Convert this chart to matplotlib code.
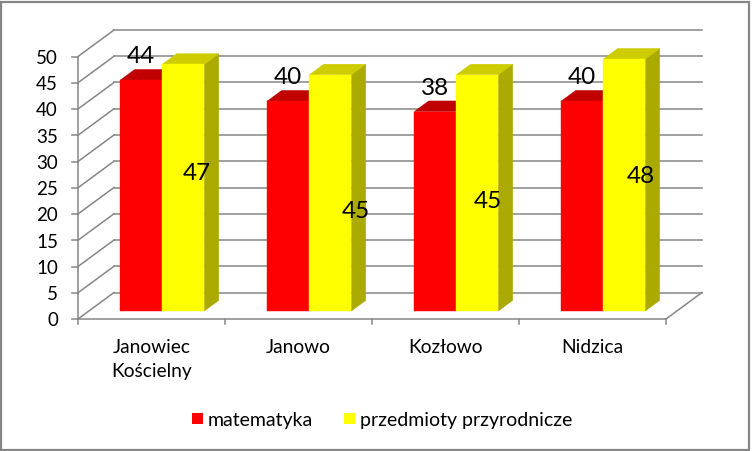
import matplotlib
matplotlib.use("Agg")
import matplotlib.pyplot as plt
from matplotlib.patches import Polygon, Rectangle

# ---- data ----
categories = ["Janowiec\nKościelny", "Janowo", "Kozłowo", "Nidzica"]
series_names = ["matematyka", "przedmioty przyrodnicze"]
matematyka = [44, 40, 38, 40]
przyrodnicze = [47, 45, 45, 48]
y_ticks = [0, 5, 10, 15, 20, 25, 30, 35, 40, 45, 50]

# ---- style / layout ----
W, H = 752, 452
PX_X0, PX_CAT, PX_Y0, PX_UNIT = 78, 147, 320, 5.25
DX, DV = 36 / PX_CAT, 26.5 / PX_UNIT          # depth direction (full wall depth)
Z0, Z1 = 0.3, 0.7                            # bar depth range
GAP = 1.5                                    # gap width (fraction of bar width)
BW = 1 / (2 + GAP)
FONT = "Lato"
GRID = "#868686"
colors = {
    "front": ["#FF0000", "#FFFF00"],
    "top": ["#C00000", "#CCCC00"],
    "side": ["#A00000", "#AAAA00"],
}
# label nudges (px) for the yellow labels, as placed in the original
ylab_dx_px = [13, 26, 11, 16]
ylab_dv = [1.7, -4.6, -2.7, 0.6]

fig = plt.figure(figsize=(W / 100, H / 100), dpi=100)
ax = fig.add_axes([0, 0, 1, 1])
ax.set_xlim(-PX_X0 / PX_CAT, (W - PX_X0) / PX_CAT)
ax.set_ylim((PX_Y0 - H) / PX_UNIT, PX_Y0 / PX_UNIT)
ax.axis("off")


def proj(x, v, z):
    return (x + z * DX, v + z * DV)


def px_x(n):
    return n / PX_CAT


def px_v(n):
    return n / PX_UNIT


ncat = len(categories)
vmax = y_ticks[-1]
lw = 1.1

# back wall gridlines and left wall diagonals
for t in y_ticks:
    a = proj(0, t, 1)
    b = proj(ncat, t, 1)
    ax.plot([a[0], b[0]], [a[1], b[1]], color=GRID, lw=lw, zorder=1)
    c = proj(0, t, 0)
    ax.plot([c[0], a[0]], [c[1], a[1]], color=GRID, lw=lw, zorder=1)
    # y tick mark
    ax.plot([-px_x(6), 0], [t, t], color=GRID, lw=lw, zorder=1)
    ax.text(-px_x(20), t - px_v(6.5), str(t), ha="right", va="baseline",
            fontsize=13.5, family=FONT, color="black")

# front vertical axis
ax.plot([0, 0], [0, vmax], color=GRID, lw=lw, zorder=1)
# floor front edge and right edge
ax.plot([0, ncat], [0, 0], color=GRID, lw=lw, zorder=1)
r0 = proj(ncat, 0, 0)
r1 = proj(ncat, 0, 1)
ax.plot([r0[0], r1[0]], [r0[1], r1[1]], color=GRID, lw=lw, zorder=1)
# category ticks
for i in range(ncat + 1):
    ax.plot([i, i], [0, -px_v(5)], color=GRID, lw=lw, zorder=1)

# bars
series = [matematyka, przyrodnicze]
for i in range(ncat):
    for s, vals in enumerate(series):
        v = vals[i]
        x0 = i + (1 - 2 * BW) / 2 + s * BW
        x1 = x0 + BW
        zo = 3 + i * 2 + s
        front = [proj(x0, 0, Z0), proj(x1, 0, Z0), proj(x1, v, Z0), proj(x0, v, Z0)]
        top = [proj(x0, v, Z0), proj(x1, v, Z0), proj(x1, v, Z1), proj(x0, v, Z1)]
        side = [proj(x1, 0, Z0), proj(x1, v, Z0), proj(x1, v, Z1), proj(x1, 0, Z1)]
        for poly, key in ((side, "side"), (top, "top"), (front, "front")):
            c = colors[key][s]
            ax.add_patch(Polygon(poly, closed=True, facecolor=c, edgecolor=c,
                                 lw=0.3, zorder=zo))
        cx, _ = proj(x0 + BW / 2, 0, Z0)
        if s == 0:
            ax.text(cx, v + 4.9, str(v), ha="center", va="baseline",
                    fontsize=17.5, family=FONT, color="black", zorder=20)
        else:
            ax.text(cx + px_x(ylab_dx_px[i]), v / 2 + Z0 * DV + ylab_dv[i], str(v),
                    ha="center", va="baseline", fontsize=17.5, family=FONT,
                    color="black", zorder=20)

# category labels (one text per line)
for i, lab in enumerate(categories):
    for k, line in enumerate(lab.split("\n")):
        ax.text(i + 0.5, px_v(PX_Y0 - 353 - 24 * k), line, ha="center",
                va="baseline", fontsize=13.8, family=FONT, color="black")

# legend (figure pixel coordinates)
def fx(p):
    return p / W


def fy(p):
    return 1 - p / H


leg = [(192, 208), (344, 360)]
for s, (sq, tx) in enumerate(leg):
    fig.patches.append(Rectangle((fx(sq), fy(425)), fx(11), 11 / H,
                                 transform=fig.transFigure,
                                 facecolor=colors["front"][s], edgecolor="none"))
    fig.text(fx(tx), fy(426), series_names[s], ha="left", va="baseline",
             fontsize=14, family=FONT, color="black")

# outer border
fig.patches.append(Rectangle((fx(1), 1 / H * 1.5), fx(W - 4), (H - 4) / H,
                             transform=fig.transFigure, facecolor="none",
                             edgecolor="#868686", lw=1.6))

fig.savefig("out.png", dpi=100)
